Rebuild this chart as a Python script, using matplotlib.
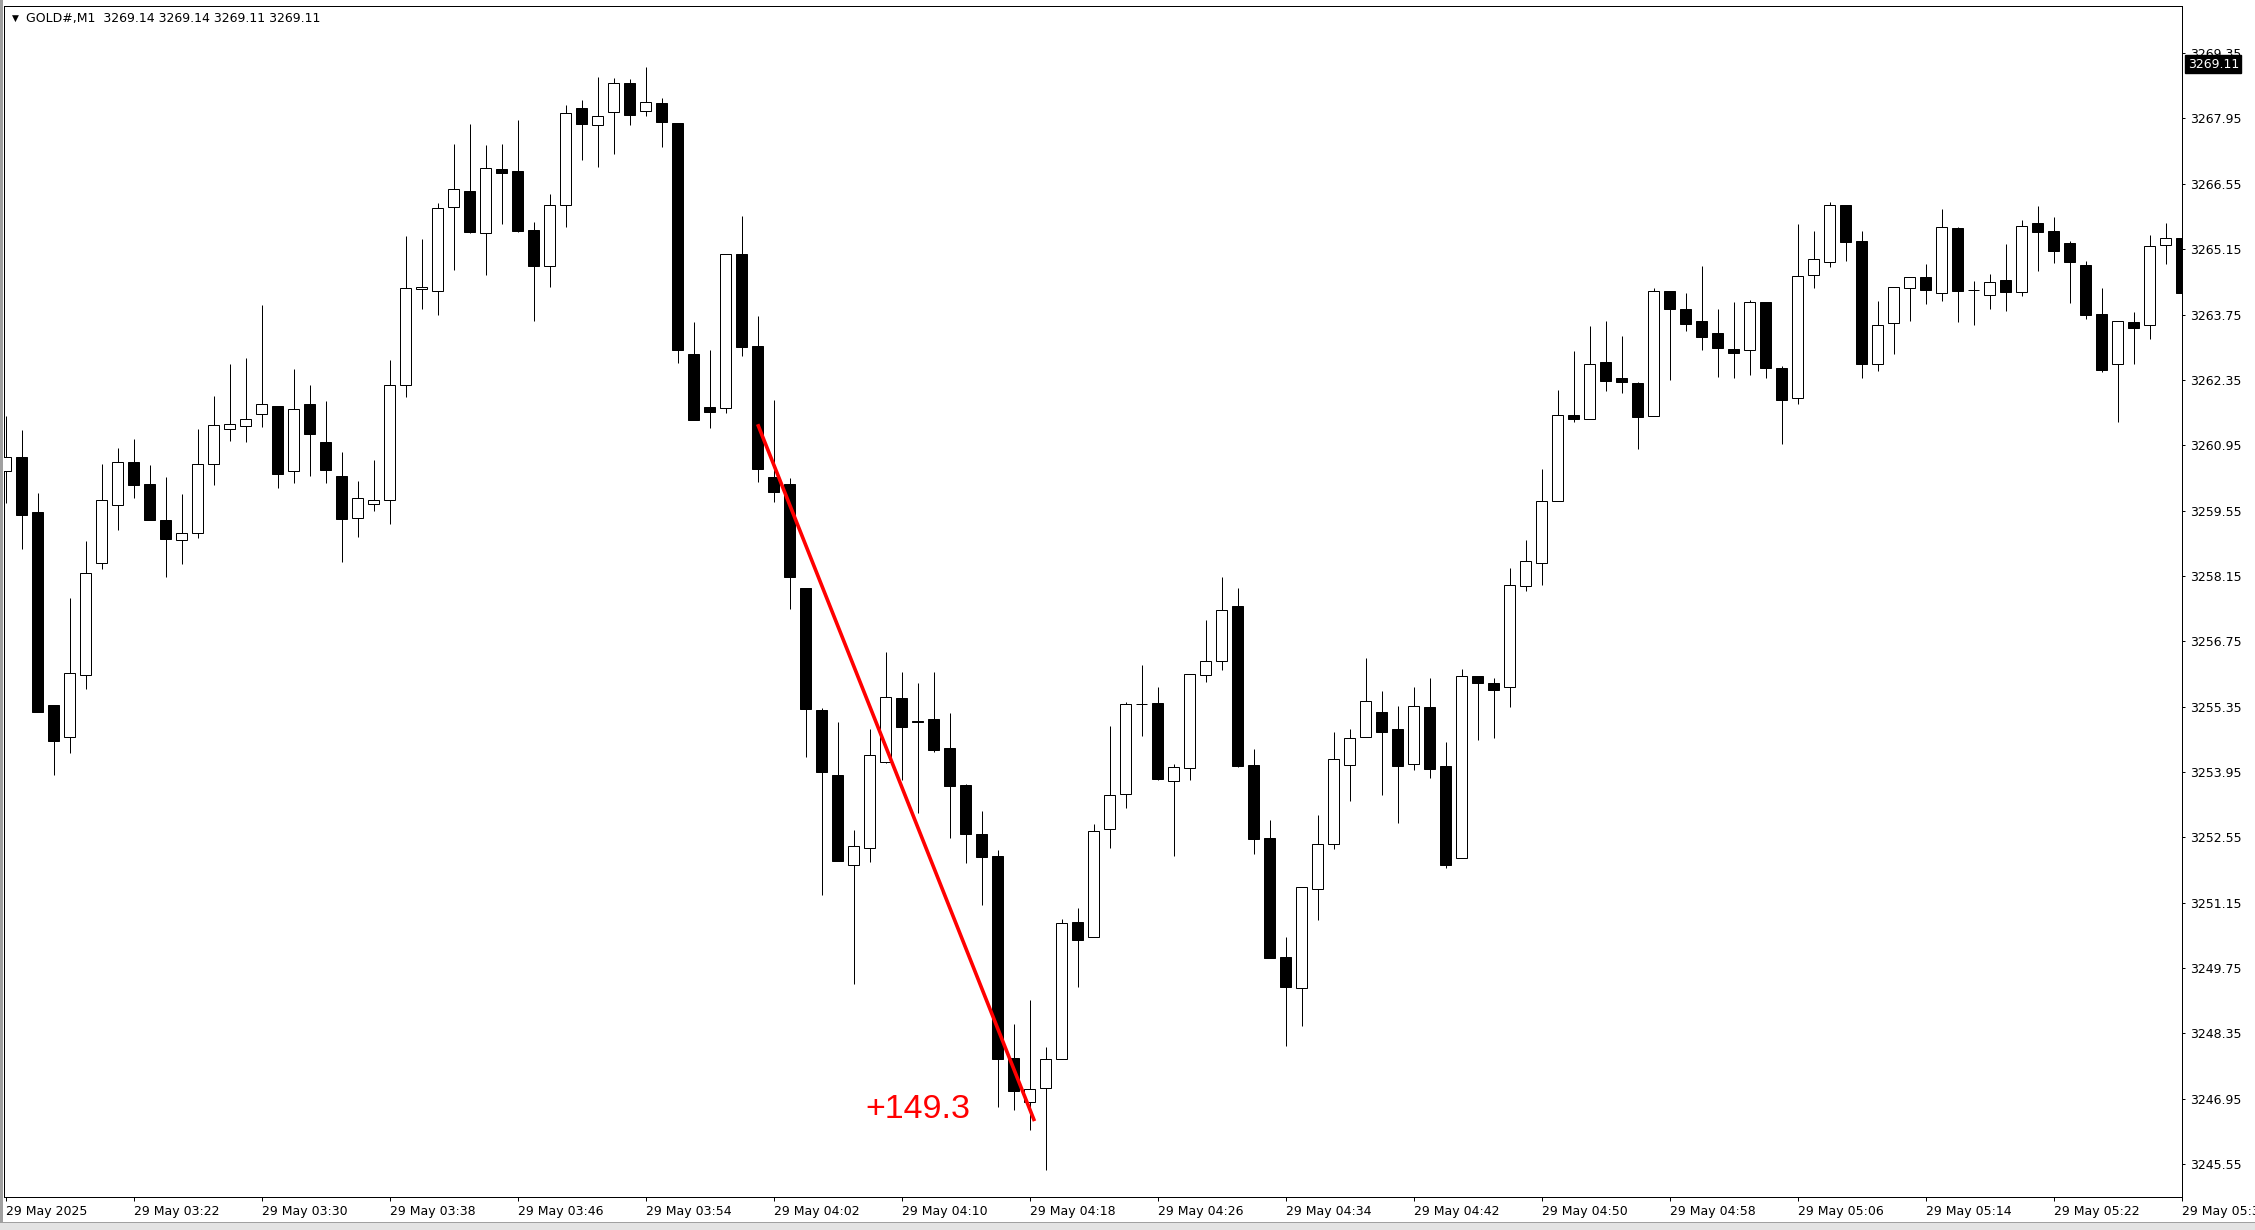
import matplotlib
matplotlib.use("Agg")
import matplotlib.pyplot as plt
import matplotlib.transforms as mtransforms
from matplotlib.patches import Rectangle

# GOLD#, M1 bars from 29 May 03:14 to 05:30
opens = [3260.39, 3260.69, 3259.51, 3255.38, 3254.69, 3256.02, 3258.43, 3259.66, 3260.59, 3260.12,
         3259.34, 3258.93, 3259.06, 3260.54, 3261.29, 3261.36, 3261.62, 3261.79, 3260.39, 3261.84,
         3261.02, 3260.29, 3259.40, 3259.69, 3259.77, 3262.23, 3264.29, 3264.25, 3266.05, 3266.40,
         3265.49, 3266.87, 3266.83, 3265.56, 3264.80, 3266.09, 3268.17, 3267.81, 3268.08, 3268.71,
         3268.10, 3268.29, 3267.86, 3262.91, 3261.77, 3261.75, 3265.05, 3263.08, 3260.26, 3260.12,
         3257.90, 3255.28, 3253.88, 3251.95, 3252.31, 3254.17, 3255.54, 3255.04, 3255.09, 3254.47,
         3253.68, 3252.63, 3252.14, 3247.82, 3246.87, 3247.17, 3247.79, 3250.73, 3250.41, 3252.72,
         3253.47, 3255.41, 3255.42, 3253.75, 3254.03, 3256.02, 3256.32, 3257.50, 3254.09, 3252.53,
         3249.98, 3249.33, 3251.45, 3252.40, 3254.09, 3254.69, 3255.23, 3254.86, 3254.11, 3255.34,
         3254.07, 3252.11, 3256.01, 3255.85, 3255.76, 3257.94, 3258.42, 3259.76, 3261.59, 3261.52,
         3262.73, 3262.38, 3262.29, 3261.58, 3264.26, 3263.86, 3263.62, 3263.36, 3263.02, 3262.98,
         3264.01, 3262.61, 3261.97, 3264.59, 3264.88, 3266.10, 3265.32, 3262.68, 3263.56, 3264.31,
         3264.55, 3264.21, 3265.60, 3264.28, 3264.16, 3264.49, 3264.24, 3265.71, 3265.55, 3265.28,
         3264.82, 3263.77, 3262.68, 3263.60, 3263.52, 3265.23, 3265.40]
highs = [3261.58, 3261.27, 3259.92, 3255.38, 3257.67, 3258.89, 3260.54, 3260.89, 3261.08, 3260.52,
         3260.27, 3259.90, 3261.29, 3262.01, 3262.69, 3262.82, 3263.96, 3261.79, 3262.59, 3262.24,
         3261.90, 3260.80, 3260.19, 3260.64, 3262.78, 3265.43, 3265.37, 3266.13, 3267.41, 3267.83,
         3267.38, 3267.41, 3267.92, 3265.73, 3266.33, 3268.24, 3268.35, 3268.84, 3268.82, 3268.79,
         3269.05, 3268.39, 3267.86, 3263.60, 3262.99, 3265.05, 3265.86, 3263.72, 3261.92, 3260.25,
         3257.90, 3255.32, 3255.01, 3252.70, 3254.88, 3256.52, 3256.09, 3255.86, 3256.09, 3255.22,
         3253.69, 3253.12, 3252.27, 3248.56, 3249.07, 3248.05, 3250.80, 3251.03, 3252.83, 3254.93,
         3255.44, 3256.24, 3255.78, 3254.11, 3256.05, 3257.20, 3258.13, 3257.89, 3254.44, 3252.92,
         3250.41, 3251.48, 3253.03, 3254.80, 3254.88, 3256.39, 3255.68, 3255.36, 3255.77, 3255.96,
         3254.59, 3256.15, 3256.01, 3255.97, 3258.31, 3258.91, 3260.45, 3262.13, 3262.97, 3263.51,
         3263.61, 3263.29, 3262.31, 3264.32, 3264.26, 3264.22, 3264.79, 3263.86, 3264.01, 3264.06,
         3264.01, 3262.65, 3265.70, 3265.54, 3266.16, 3266.10, 3265.54, 3264.04, 3264.35, 3264.55,
         3264.83, 3266.01, 3265.62, 3264.47, 3264.61, 3265.26, 3265.77, 3266.07, 3265.83, 3265.32,
         3264.90, 3264.32, 3263.62, 3263.80, 3265.45, 3265.72, 3266.60]
lows = [3259.72, 3258.73, 3255.24, 3253.89, 3254.36, 3255.73, 3258.30, 3259.13, 3259.82, 3259.35,
        3258.13, 3258.41, 3258.97, 3260.09, 3261.05, 3261.01, 3261.33, 3260.04, 3260.15, 3260.30,
        3260.15, 3258.44, 3258.99, 3259.55, 3259.27, 3261.99, 3263.86, 3263.74, 3264.71, 3265.49,
        3264.60, 3265.70, 3265.51, 3263.62, 3264.33, 3265.63, 3267.05, 3266.92, 3267.18, 3267.81,
        3268.01, 3267.33, 3262.72, 3261.48, 3261.31, 3261.65, 3262.86, 3260.16, 3259.74, 3257.45,
        3254.28, 3251.32, 3252.05, 3249.41, 3252.02, 3254.15, 3253.77, 3253.08, 3254.38, 3252.53,
        3252.01, 3251.09, 3246.77, 3246.70, 3246.27, 3245.43, 3247.79, 3249.34, 3250.41, 3252.33,
        3253.17, 3254.73, 3253.77, 3252.15, 3253.77, 3255.88, 3256.14, 3254.06, 3252.20, 3249.97,
        3248.08, 3248.51, 3250.78, 3252.30, 3253.33, 3254.69, 3253.45, 3252.86, 3253.99, 3253.83,
        3251.89, 3252.11, 3254.63, 3254.68, 3255.35, 3257.82, 3257.96, 3259.76, 3261.45, 3261.52,
        3262.12, 3262.07, 3260.86, 3261.58, 3262.34, 3263.40, 3262.99, 3262.41, 3262.39, 3262.46,
        3262.39, 3260.97, 3261.84, 3264.31, 3264.76, 3264.89, 3262.38, 3262.55, 3262.91, 3263.62,
        3263.98, 3264.03, 3263.58, 3263.53, 3263.86, 3263.83, 3264.15, 3264.69, 3264.86, 3264.00,
        3263.66, 3262.52, 3261.44, 3262.68, 3263.22, 3264.84, 3263.81]
closes = [3260.69, 3259.46, 3255.24, 3254.62, 3256.08, 3258.22, 3259.77, 3260.60, 3260.10, 3259.35,
          3258.94, 3259.08, 3260.54, 3261.38, 3261.40, 3261.51, 3261.83, 3260.34, 3261.73, 3261.18,
          3260.41, 3259.36, 3259.82, 3259.78, 3262.24, 3264.31, 3264.33, 3266.03, 3266.43, 3265.51,
          3266.89, 3266.79, 3265.55, 3264.78, 3266.09, 3268.06, 3267.84, 3268.00, 3268.71, 3268.03,
          3268.31, 3267.87, 3262.98, 3261.48, 3261.67, 3265.05, 3263.05, 3260.45, 3259.95, 3258.13,
          3255.30, 3253.94, 3252.05, 3252.36, 3254.31, 3255.56, 3254.92, 3255.01, 3254.41, 3253.64,
          3252.61, 3252.12, 3247.80, 3247.11, 3247.15, 3247.79, 3250.71, 3250.36, 3252.68, 3253.45,
          3255.40, 3255.40, 3253.80, 3254.05, 3256.04, 3256.32, 3257.41, 3254.08, 3252.52, 3249.97,
          3249.35, 3251.48, 3252.40, 3254.22, 3254.67, 3255.46, 3254.81, 3254.08, 3255.37, 3254.02,
          3251.96, 3256.01, 3255.86, 3255.71, 3257.95, 3258.46, 3259.75, 3261.59, 3261.52, 3262.70,
          3262.33, 3262.31, 3261.56, 3264.26, 3263.87, 3263.55, 3263.27, 3263.04, 3262.93, 3264.01,
          3262.61, 3261.92, 3264.58, 3264.93, 3266.09, 3265.30, 3262.68, 3263.52, 3264.33, 3264.55,
          3264.27, 3265.62, 3264.26, 3264.27, 3264.44, 3264.24, 3265.64, 3265.52, 3265.12, 3264.88,
          3263.74, 3262.56, 3263.62, 3263.47, 3265.21, 3265.38, 3264.22]

time_labels = ["29 May 2025", "29 May 03:22", "29 May 03:30", "29 May 03:38", "29 May 03:46",
               "29 May 03:54", "29 May 04:02", "29 May 04:10", "29 May 04:18", "29 May 04:26",
               "29 May 04:34", "29 May 04:42", "29 May 04:50", "29 May 04:58", "29 May 05:06",
               "29 May 05:14", "29 May 05:22", "29 May 05:30"]
price_ticks = [3245.55, 3246.95, 3248.35, 3249.75, 3251.15, 3252.55, 3253.95, 3255.35, 3256.75,
               3258.15, 3259.55, 3260.95, 3262.35, 3263.75, 3265.15, 3266.55, 3267.95, 3269.35]

# trend line drawn on the chart and its label
trend_bars = [47, 64.3]
trend_prices = [3261.40, 3246.47]
trend_label = "+149.3"
last_price = 3269.11
title = "GOLD#,M1  3269.14 3269.14 3269.11 3269.11"

plt.rcParams['font.family'] = ['DejaVu Sans']

fig = plt.figure(figsize=(22.55, 12.30), dpi=100)
ax = fig.add_axes([4 / 2255, 33.3 / 1230, 2178.3 / 2255, 1190.7 / 1230])

n = len(opens)
xs = list(range(n))
px = 0.72  # one pixel in points

ax.vlines(xs, lows, highs, color='black', linewidth=px, zorder=2)
for i in xs:
    o, c = opens[i], closes[i]
    face = 'white' if c > o else 'black'
    ax.bar(i, abs(c - o), bottom=min(o, c), width=0.66, color=face,
           edgecolor='black', linewidth=px, zorder=3)

ax.plot(trend_bars, trend_prices, color='#ff0000', linewidth=2.6, zorder=5,
        solid_capstyle='butt')
ax.text(53.7, 3246.71, trend_label, color='#ff0000', fontsize=24.5,
        family='Liberation Sans', ha='left', va='center', zorder=6)

ax.set_xlim(-0.106, 136.04)
ax.set_ylim(3244.85, 3270.36)

ax.yaxis.tick_right()
ax.set_yticks(price_ticks)
ax.set_yticklabels([f"{p:.2f}" for p in price_ticks])
ax.set_xticks(xs[::8])
ax.set_xticklabels(time_labels)
for lab in ax.get_xticklabels():
    lab.set_ha('left')
ax.tick_params(axis='y', direction='out', length=2.5, width=px, pad=3, labelsize=9)
ax.tick_params(axis='x', direction='out', length=3, width=px, pad=3, labelsize=9)
for s in ax.spines.values():
    s.set_linewidth(px)
    s.set_color('black')

# current price marker on the price scale
tr = mtransforms.blended_transform_factory(ax.transAxes, ax.transData)
ax.text(1.0025, last_price, f"{last_price:.2f}", transform=tr, color='white',
        fontsize=9, ha='left', va='center', zorder=10, clip_on=False,
        bbox=dict(boxstyle='square,pad=0.2', facecolor='black', edgecolor='black'))

# chart header
ax.text(0.0035, 0.9895, "\u25bc", transform=ax.transAxes, fontsize=6.5, ha='left', va='center')
ax.text(0.0101, 0.9895, title, transform=ax.transAxes, fontsize=9, ha='left', va='center')

# window frame of the terminal
fig.patches.append(Rectangle((0, 0), 3 / 2255, 1, transform=fig.transFigure,
                             facecolor='#a0a0a0', edgecolor='none'))
fig.patches.append(Rectangle((0, 0), 1, 7 / 1230, transform=fig.transFigure,
                             facecolor='#e3e3e3', edgecolor='none'))
fig.patches.append(Rectangle((0, 7 / 1230), 1, 1.5 / 1230, transform=fig.transFigure,
                             facecolor='#a0a0a0', edgecolor='none'))

fig.savefig("out.png", dpi=100, facecolor='white')
